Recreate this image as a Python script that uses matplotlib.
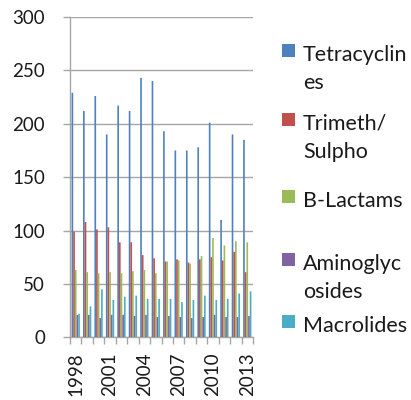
import matplotlib
matplotlib.use("Agg")
import matplotlib.pyplot as plt
from matplotlib.patches import Rectangle
import numpy as np

plt.rcParams['font.family'] = ['Lato', 'DejaVu Sans']

years = list(range(1998, 2014))
series_names = ["Tetracyclines", "Trimeth/Sulpho", "B-Lactams", "Aminoglycosides", "Macrolides"]
legend_labels = ["Tetracyclin\nes", "Trimeth/\nSulpho", "B-Lactams", "Aminoglyc\nosides", "Macrolides"]
tetracyclines = [229, 212, 226, 190, 217, 212, 243, 240, 193, 175, 175, 178, 201, 110, 190, 185]
trimeth_sulpho = [99, 108, 101, 103, 89, 89, 77, 74, 71, 73, 70, 73, 75, 72, 80, 61]
b_lactams = [63, 61, 60, 61, 60, 62, 63, 60, 71, 72, 69, 76, 93, 86, 90, 89]
aminoglycosides = [21, 21, 18, 21, 21, 20, 21, 19, 20, 19, 18, 19, 21, 19, 19, 20]
macrolides = [22, 29, 45, 35, 38, 39, 36, 36, 36, 33, 35, 39, 35, 36, 41, 43]
y_ticks = [0, 50, 100, 150, 200, 250, 300]
label_years = [1998, 2001, 2004, 2007, 2010, 2013]

colors = ["#4F81BD", "#C0504D", "#9BBB59", "#8064A2", "#4BACC6"]
all_series = [tetracyclines, trimeth_sulpho, b_lactams, aminoglycosides, macrolides]

W, H = 411, 400
fig = plt.figure(figsize=(W / 100, H / 100), dpi=100)
ax = fig.add_axes([70 / W, 1 - 337.3 / H, (253 - 70) / W, (337.3 - 17) / H])

x = np.arange(len(years))
bw = 0.145
for i, (vals, c) in enumerate(zip(all_series, colors)):
    bars = ax.bar(x + (i - 2) * bw, vals, width=bw, color=c, linewidth=0, zorder=3,
                  label=series_names[i])
    for b in bars:
        b.set_snap(False)

grid_c = "#A6A6A6"
ax.set_xlim(-0.5, len(years) - 0.5)
ax.set_ylim(0, 300)
ax.set_yticks(y_ticks)
ax.set_yticklabels([str(v) for v in y_ticks])
ax.yaxis.grid(True, color=grid_c, linewidth=1.0, zorder=0)
ax.set_axisbelow(True)

lab_pos = [years.index(y) for y in label_years]
ax.set_xticks(lab_pos)
ax.set_xticklabels([str(y) for y in label_years], rotation=90)
ax.set_xticks(np.arange(-0.5, len(years)), minor=True)
ax.tick_params(axis='x', which='major', length=0, pad=11, labelsize=13.5, colors="#1a1a1a")
ax.tick_params(axis='x', which='minor', length=5, width=1, color=grid_c)
ax.tick_params(axis='y', which='major', length=5, width=1, color=grid_c, pad=13,
               labelsize=13.5, labelcolor="#1a1a1a")

for s in ['top', 'right']:
    ax.spines[s].set_visible(False)
for s in ['left', 'bottom']:
    ax.spines[s].set_color(grid_c)
    ax.spines[s].set_linewidth(1.0)

# legend drawn manually to match the wrapped entries
baselines = [60.7, 130, 206.7, 270, 331.7]
line_gap = 28.5
for lab, c, b in zip(legend_labels, colors, baselines):
    fig.patches.append(Rectangle((282 / W, 1 - (b - 4) / H), 13 / W, 13 / H,
                                 transform=fig.transFigure, facecolor=c, edgecolor='none'))
    for k, line in enumerate(lab.split("\n")):
        fig.text(303 / W, 1 - (b + k * line_gap) / H, line, fontsize=15.5,
                 va='baseline', ha='left', color="#1a1a1a")

fig.savefig("out.png", dpi=100)
